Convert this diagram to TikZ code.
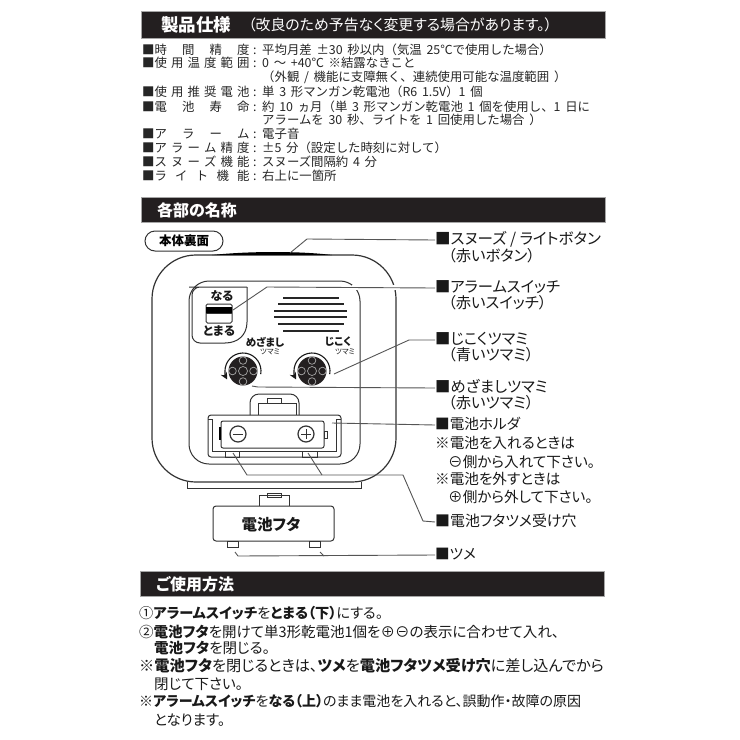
\documentclass[tikz,border=0pt]{standalone}
\usepackage{fontspec}
\setmainfont{Noto Sans CJK JP}[RawFeature=+palt]
\newfontfamily\specfont{Noto Sans CJK JP}[WordSpace=1.7]
\usetikzlibrary{positioning,arrows,arrows.meta,calc}
\definecolor{barblack}{HTML}{231F20}
\definecolor{leadgray}{HTML}{555555}
\tikzset{
bar/.style={fill=barblack,draw=gray!70,line width=.5pt},
bartext/.style={anchor=west,inner sep=0pt,text=white,font=\bfseries\fontsize{16}{16}\selectfont},
spec/.style={anchor=west,inner sep=0pt,text=black!85,text height=10pt,text depth=2pt,font=\specfont\fontsize{12.4}{13}\selectfont},
part/.style={anchor=west,inner sep=0pt,text=black!90,text height=10pt,text depth=2pt,font=\fontsize{#1}{15}\selectfont},
part/.default=14.6,
usage/.style={anchor=west,inner sep=0pt,text=black!90,text height=11pt,text depth=2pt,font=\fontsize{#1}{15}\selectfont},
lbl/.style={inner sep=0pt,text=black!90,font=\bfseries\fontsize{#1}{#1}\selectfont},
outline/.style={draw=black!80,line width=1pt},
lead/.style={draw=leadgray,line width=.9pt},
knobdot/.style={draw=gray!70,line width=.7pt},
}
\newcommand{\specname}[1]{\makebox[95pt][s]{#1}\hspace{3.5pt}:}

\begin{document}
\begin{tikzpicture}[>=stealth,x=1pt,y=-1pt]
\useasboundingbox (0,0) rectangle (740,740);

% bars
\fill[white] (0,0) rectangle (740,740);
\draw[bar] (141,11) rectangle (605,38);
\draw[bar] (141,197) rectangle (605,222);
\draw[bar] (140,571) rectangle (604,596);
\node[bartext,font=\bfseries\fontsize{17.5}{18}\selectfont] (title1) at (161,25) {製品仕様};
\node[bartext,font=\fontsize{14.9}{15}\selectfont] (title1b) at (248,25) {（改良のため予告なく変更する場合があります。）};
\node[bartext] (title2) at (157,210) {各部の名称};
\node[bartext] (title3) at (156,584) {ご使用方法};

% specifications
\node[spec] (s1) at (142,50) {■\specname{時\hfil 間\hfil 精\hfil 度}};
\node[spec] (s2) at (142,63) {■\specname{使\hfil 用\hfil 温\hfil 度\hfil 範\hfil 囲}};
\node[spec] (s3) at (142,92) {■\specname{使\hfil 用\hfil 推\hfil 奨\hfil 電\hfil 池}};
\node[spec] (s4) at (142,107) {■\specname{電\hfil 池\hfil 寿\hfil 命}};
\node[spec] (s5) at (142,134) {■\specname{ア\hfil ラ\hfil ー\hfil ム}};
\node[spec] (s6) at (142,148) {■\specname{ア\hfil ラ\hfil ー\hfil ム\hfil 精\hfil 度}};
\node[spec] (s7) at (142,162) {■\specname{ス\hfil ヌ\hfil ー\hfil ズ\hfil 機\hfil 能}};
\node[spec] (s8) at (142,176) {■\specname{ラ\hfil イ\hfil ト\hfil 機\hfil 能}};
\node[spec] (v1) at (262,50) {平均月差 ±30 秒以内（気温 25℃で使用した場合）};
\node[spec] (v2) at (262,63) {0 〜 +40℃ ※結露なきこと};
\node[spec] (v2b) at (262,77) {（外観 / 機能に支障無く、連続使用可能な温度範囲 ）};
\node[spec] (v3) at (262,92) {単 3 形マンガン乾電池（R6 1.5V）1 個};
\node[spec] (v4) at (262,107) {約 10 ヵ月（単 3 形マンガン乾電池 1 個を使用し、1 日に};
\node[spec] (v4b) at (262,120) {アラームを 30 秒、ライトを 1 回使用した場合 ）};
\node[spec] (v5) at (262,134) {電子音};
\node[spec] (v6) at (262,148) {±5 分（設定した時刻に対して）};
\node[spec] (v7) at (262,162) {スヌーズ間隔約 4 分};
\node[spec] (v8) at (262,176) {右上に一箇所};

% clock body
\node[draw=black!80,line width=1pt,rounded corners=10pt,inner sep=0pt,minimum width=78pt,minimum height=20pt,font=\bfseries\fontsize{12.5}{13}\selectfont] (back) at (184,241) {本体裏面};
\draw[outline,line width=1.2pt,rounded corners=44pt] (152,255) rectangle (396,482);
\fill[black] (212,255) .. controls (250,251) and (300,251) .. (332,255) -- cycle;
\draw[outline] (187,482) -- (187,488) -- (361,488) -- (361,482);
\draw[outline,rounded corners=20pt] (189,281) rectangle (360,464);
\draw[outline,rounded corners=8pt] (247,287) -- (197,287) -- (192,287) -- (192,343) -- (225,343);
\draw[outline] (225,343) .. controls (238,343) and (247,335) .. (247,322) -- (247,287);

% switch
\node[lbl=12] (sw1) at (222,296) {なる};
\node[lbl=12] (sw2) at (219,331) {とまる};
\draw[outline,rounded corners=1.5pt] (206,304) rectangle (232,323);
\fill[black] (206,307) rectangle (232,313);
\draw[outline] (206,313) -- (232,313);

% speaker
\draw[line width=1.4pt,black!85] (283,298) -- (339,298);
\draw[line width=1.4pt,black!85] (278,304) -- (344,304);
\draw[line width=1.4pt,black!85] (274,311) -- (347,311);
\draw[line width=1.4pt,black!85] (274,317) -- (347,317);
\draw[line width=1.4pt,black!85] (278,324) -- (344,324);
\draw[line width=1.4pt,black!85] (283,331) -- (339,331);

% knobs
\node[lbl=10.5] (kn1) at (265,342) {めざまし};
\node[lbl=7.5,font=\fontsize{7.5}{8}\selectfont] (kn1b) at (270,352) {ツマミ};
\node[lbl=10.5] (kn2) at (338,342) {じこく};
\node[lbl=7.5,font=\fontsize{7.5}{8}\selectfont] (kn2b) at (345,352) {ツマミ};
\foreach \kx in {243,312} {
  \fill[barblack] (\kx,371) circle [radius=14.5pt];
  \draw[knobdot] (\kx,371) circle [radius=4.5pt];
  \foreach \ka in {0,90,180,270}
    \draw[knobdot] ($(\kx,371)+(\ka:10.5pt)$) circle [radius=3.8pt];
  \draw[-{Stealth[length=7pt,width=7pt]},line width=1.1pt,black!90] ($(\kx,371)+(-10:18pt)$) arc [start angle=-10,end angle=208,radius=18pt];
}

% battery holder
\draw[outline,rounded corners=9pt] (250,415) -- (250,394) -- (299,394) -- (299,415);
\draw[outline] (258,415) -- (258,403) -- (296,403) -- (296,415);
\draw[outline] (267,403) -- (267,398) -- (281,398) -- (281,403);
\draw[outline,rounded corners=3pt] (208,415) rectangle (341,457);
\draw[outline] (208,419) -- (212,419) -- (212,451) -- (336,451) -- (336,419) -- (341,419);
\draw[outline,rounded corners=2pt] (221,421) rectangle (324,448);
\draw[line width=1.4pt,black] (220,427) -- (220,440);
\draw[outline] (324,431) rectangle (327,438);
\draw[outline,line width=1.2pt] (238,434) circle [radius=8pt];
\draw[outline,line width=1.2pt] (306,434) circle [radius=8pt];
\draw[outline] (233,434) -- (243,434);
\draw[outline] (301,434) -- (311,434);
\draw[outline] (306,429) -- (306,439);
\draw[outline] (225,451) rectangle (239,457);
\draw[outline] (302,451) rectangle (317,457);

% cover
\draw[outline,rounded corners=3pt] (213,506) rectangle (334,541);
\draw[outline] (259,506) -- (259,495) -- (289,495) -- (289,506);
\draw[outline] (267,493) rectangle (281,497);
\draw[outline] (227,541) rectangle (238,547);
\draw[outline] (309,541) rectangle (320,547);
\node[lbl=15.5] (cover) at (271,525) {電池フタ};

% part names
\node[part=15.5] (p1) at (435,240) {■スヌーズ / ライトボタン};
\node[part=15.3] (p1b) at (448,257) {（赤いボタン）};
\node[part=15.3] (p2) at (435,288) {■アラームスイッチ};
\node[part=15.3] (p2b) at (448,304) {（赤いスイッチ）};
\node[part=15.3] (p3) at (435,340) {■じこくツマミ};
\node[part=15.3] (p3b) at (448,356) {（青いツマミ）};
\node[part=15.3] (p4) at (435,388) {■めざましツマミ};
\node[part=15.3] (p4b) at (448,404) {（赤いツマミ）};
\node[part] (p5) at (435,425) {■電池ホルダ};
\node[part] (p5a) at (435,444) {※電池を入れるときは};
\node[part] (p5b) at (448,463) {⊖側から入れて下さい。};
\node[part] (p5c) at (435,480) {※電池を外すときは};
\node[part] (p5d) at (448,498) {⊕側から外して下さい。};
\node[part=14.9] (p6) at (435,522) {■電池フタツメ受け穴};
\node[part] (p7) at (435,555) {■ツメ};

% leaders
\draw[white,line width=5pt] (352,287) -- (400,287);
\coordinate (c1) at (290,253);
\coordinate (c2) at (233,310);
\coordinate (c3) at (334,374);
\coordinate (c4) at (252,386);
\coordinate (c5) at (332,423);
\coordinate (c6) at (233,453);
\coordinate (c6b) at (308,453);
\coordinate (c7) at (235,552);
\coordinate (c7b) at (320,552);
\draw[lead] (c1) -- (307,239) -- (p1.west);
\draw[lead] (c2) -- (267,287) -- (p2.west);
\draw[lead] (c3) -- (409,340) -- (p3.west);
\draw[lead] (c4) -- (258,387) -- (p4.west);
\draw[lead] (c5) -- (p5.west);
\draw[lead] (c6) -- (247,475) -- (403,475) -- (423,521) -- (p6.west);
\draw[lead] (c6b) -- (322,475);
\draw[lead] (c7) -- (238,556) -- (p7.west);
\draw[lead] (c7b) -- (324,556);

% how to use
\node[usage=14.2] (u1) at (139,614) {①\textbf{アラームスイッチ}を\textbf{とまる（下）}にする。};
\node[usage=14.5] (u2) at (139,633) {②\textbf{電池フタ}を開けて単3形乾電池1個を⊕⊖の表示に合わせて入れ、};
\node[usage=14.5] (u2b) at (154,649) {\textbf{電池フタ}を閉じる。};
\node[usage=15.2] (u3) at (139,667) {※\textbf{電池フタ}を閉じるときは、\textbf{ツメ}を\textbf{電池フタツメ受け穴}に差し込んでから};
\node[usage=14.5] (u3b) at (154,685) {閉じて下さい。};
\node[usage=14] (u4) at (139,702) {※\textbf{アラームスイッチ}を\textbf{なる（上）}のまま電池を入れると、誤動作・故障の原因};
\node[usage=14.5] (u4b) at (154,721) {となります。};
\end{tikzpicture}
\end{document}
